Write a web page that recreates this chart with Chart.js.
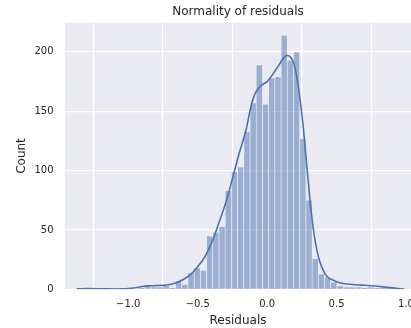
<!DOCTYPE html>
<html lang="en">
  <head>
    <meta charset="UTF-8">
    <title>Normality of residuals</title>
    <script src="https://cdn.jsdelivr.net/npm/chart.js"></script>
    <style>
      body { margin: 0; background: #ffffff; }
      #residualChart { display: block; }
    </style>
  </head>
  <body>
    <canvas id="residualChart" width="411" height="328"></canvas>
    <script>
      // Histogram bins: left edge of the first bin and the bin width
      const firstBinEdge = -1.3745;
      const binWidth = 0.0447;
      // Counts per bin, from left to right
      const binCounts = [
        1, 1, 1, 0, 1, 0, 0, 0, 0, 0, 1,
        4, 2, 2, 3, 1, 7, 4, 14, 18, 16,
        45, 48, 53, 83, 99, 103, 133, 157, 189, 156,
        178, 179, 214, 193, 200, 127, 75, 26, 13, 10,
        6, 3, 2, 2, 2, 1, 2, 1, 1, 1, 0, 1
      ];

      // Kernel density estimate, scaled to counts
      const kdeX = [
        -1.37, -1.3, -1.2, -1.1, -1.0, -0.95, -0.9, -0.85, -0.8, -0.75,
        -0.7, -0.65, -0.6, -0.55, -0.5, -0.45, -0.4, -0.35, -0.3,
        -0.25, -0.2, -0.15, -0.12, -0.09, -0.05, 0.0, 0.04, 0.08, 0.12,
        0.14, 0.165, 0.19, 0.21, 0.235, 0.26, 0.285, 0.31, 0.34, 0.37,
        0.4, 0.43, 0.47, 0.52, 0.6, 0.7, 0.76, 0.85, 0.93, 0.98
      ];
      const kdeY = [
        0.3, 0.6, 0.5, 0.3, 0.6, 1.3, 2.3, 2.9, 3.1, 3.3,
        4.0, 5.8, 8.5, 12.5, 19, 27, 39, 55, 72,
        93, 115, 135, 152, 164, 171, 175, 181, 188, 195,
        197, 196, 191, 181, 162, 137, 105, 74, 45, 27,
        17, 11, 8, 5.6, 4.3, 3.4, 3.0, 1.8, 0.8, 0.3
      ];

      const xTicks = [-1.0, -0.5, 0.0, 0.5, 1.0];
      const yTicks = [0, 50, 100, 150, 200];

      const histData = binCounts.map((c, i) => ({ x: firstBinEdge + binWidth * (i + 0.5), y: c }));
      const kdeData = kdeX.map((x, i) => ({ x: x, y: kdeY[i] }));

      const textColor = '#262626';
      const fontFamily = '"DejaVu Sans", sans-serif';

      // seaborn darkgrid background behind the plot area
      const plotBackground = {
        id: 'plotBackground',
        beforeDraw(chart) {
          const { ctx, chartArea } = chart;
          ctx.save();
          ctx.fillStyle = '#EAEAF2';
          ctx.fillRect(chartArea.left, chartArea.top, chartArea.right - chartArea.left, chartArea.bottom - chartArea.top);
          ctx.restore();
        }
      };

      const fmt = (v) => {
        const s = Math.abs(v).toFixed(1);
        return v < 0 ? '\u2212' + s : s;
      };

      new Chart(document.getElementById('residualChart'), {
        type: 'bar',
        data: {
          datasets: [
            {
              type: 'line',
              label: 'KDE',
              data: kdeData,
              borderColor: '#4C72B0',
              borderWidth: 1.6,
              pointRadius: 0,
              cubicInterpolationMode: 'monotone',
              fill: false,
              order: 0
            },
            {
              type: 'bar',
              label: 'Count',
              data: histData,
              backgroundColor: 'rgba(76, 114, 176, 0.5)',
              borderColor: 'rgba(255, 255, 255, 0.55)',
              borderWidth: 0.6,
              barPercentage: 1.0,
              categoryPercentage: 1.0,
              order: 1
            }
          ]
        },
        options: {
          responsive: false,
          animation: false,
          devicePixelRatio: 1,
          layout: { padding: 0 },
          plugins: {
            legend: { display: false },
            tooltip: { enabled: false },
            title: {
              display: true,
              text: 'Normality of residuals',
              fullSize: false,
              color: textColor,
              font: { family: fontFamily, size: 12, weight: 'normal' },
              padding: { top: 4.5, bottom: 3.8 }
            }
          },
          scales: {
            x: {
              type: 'linear',
              position: 'bottom',
              min: -1.455,
              max: 1.036,
              offset: false,
              border: { display: false },
              grid: { color: '#ffffff', lineWidth: 1.2, drawTicks: false },
              ticks: {
                color: textColor,
                padding: 9.5,
                font: { family: fontFamily, size: 10 },
                callback: (v) => fmt(v)
              },
              title: {
                display: true,
                text: 'Residuals',
                color: textColor,
                font: { family: fontFamily, size: 12 },
                padding: { top: 0, bottom: 0.3 }
              },
              afterBuildTicks: (scale) => { scale.ticks = xTicks.map(v => ({ value: v })); },
              afterFit: (scale) => {
                scale.height = 38.7;
                scale.paddingLeft = 0;
                scale.paddingRight = 0;
              }
            },
            y: {
              type: 'linear',
              min: 0,
              max: 224.6,
              border: { display: false },
              grid: { color: '#ffffff', lineWidth: 1.2, drawTicks: false },
              ticks: {
                color: textColor,
                padding: 11.5,
                font: { family: fontFamily, size: 10 }
              },
              title: {
                display: true,
                text: 'Count',
                color: textColor,
                font: { family: fontFamily, size: 12 },
                padding: { top: 14.8, bottom: 0 }
              },
              afterBuildTicks: (scale) => { scale.ticks = yTicks.map(v => ({ value: v })); },
              afterFit: (scale) => {
                scale.width = 65;
                scale.paddingTop = 0;
                scale.paddingBottom = 0;
              }
            }
          }
        },
        plugins: [plotBackground]
      });
    </script>
  </body>
</html>
